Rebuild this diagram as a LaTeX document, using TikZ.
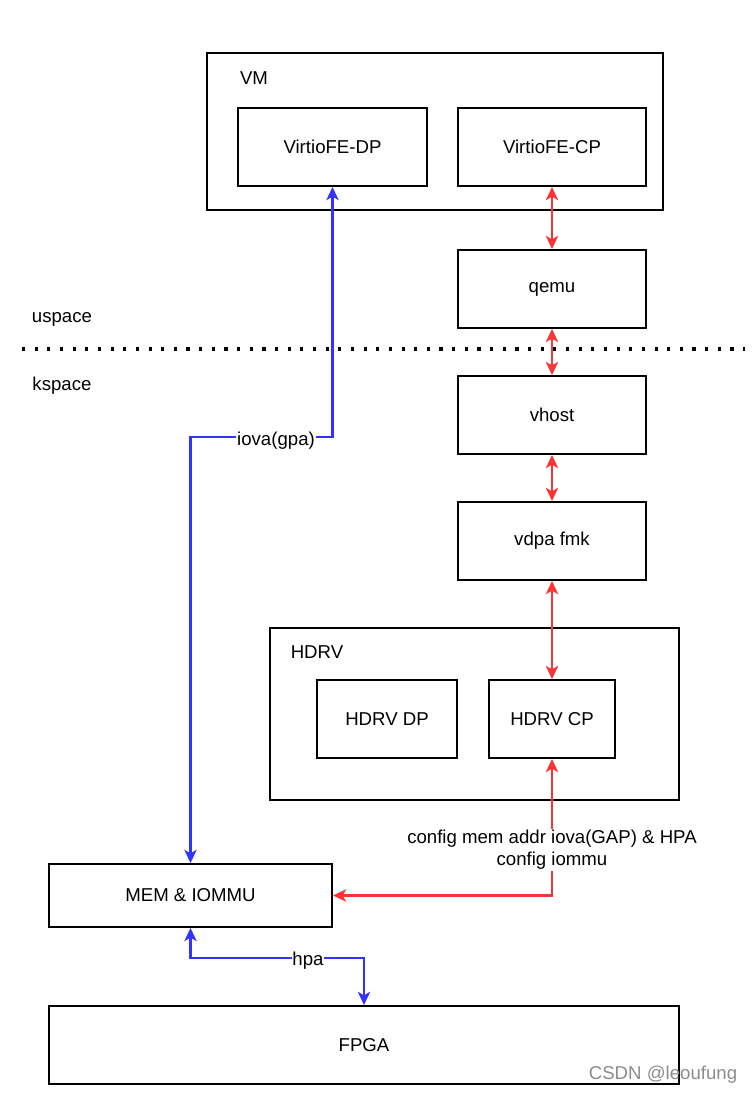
\documentclass[tikz,border=0pt]{standalone}
\usepackage{fontspec}
\setmainfont{Liberation Sans}
\usetikzlibrary{arrows.meta}
\definecolor{cfgred}{HTML}{FF3333}
\definecolor{addrblue}{HTML}{3333FF}
\begin{document}
\begin{tikzpicture}[x=0.02cm,y=-0.02cm]
      \tikzstyle{every node} = [font=\fontsize{10.6}{12.7}\selectfont, inner sep = 1pt]
      \tikzstyle{blk} = [draw, line width=1.1pt, minimum height=1.56cm]
      \tikzstyle{redlink} = [draw=cfgred, line width=1.2pt, {Stealth[length=7.5pt,width=7pt,inset=2pt]}-{Stealth[length=7.5pt,width=7pt,inset=2pt]}]
      \tikzstyle{bluelink} = [draw=addrblue, line width=1.2pt, {Stealth[length=7.5pt,width=7pt,inset=2pt]}-{Stealth[length=7.5pt,width=7pt,inset=2pt]}]
      \tikzstyle{tag} = [fill=white, inner sep=0.5pt]
      \useasboundingbox (0,0) rectangle (752,1094);

      % user space
      \node[blk, minimum width=9.12cm, minimum height=3.14cm] (vm) at (435,131.5) {};
      \node (vmlabel) at (254,78) {VM};
      \node[blk, minimum width=3.78cm] (fedp) at (332.5,147) {VirtioFE-DP};
      \node[blk, minimum width=3.76cm] (fecp) at (552,147) {VirtioFE-CP};
      \node[blk, minimum width=3.76cm] (qemu) at (552,289) {qemu};

      \node (uspace) at (62,319) {uspace};
      \node (kspace) at (62,386) {kspace};
      \draw[line width=1.8pt, dash pattern=on 1.8pt off 5.4pt] (22,349) -- (745,349);

      % kernel space
      \node[blk, minimum width=3.76cm] (vhost) at (552,415) {vhost};
      \node[blk, minimum width=3.76cm] (vdpa) at (552,541) {vdpa fmk};
      \node[blk, minimum width=8.18cm, minimum height=3.44cm] (hdrv) at (474.5,714) {};
      \node (hdrvlabel) at (317,652) {HDRV};
      \node[blk, minimum width=2.8cm] (hdp) at (387,719) {HDRV DP};
      \node[blk, minimum width=2.52cm] (hcp) at (552,719) {HDRV CP};
      \node[blk, minimum width=5.66cm, minimum height=1.26cm] (mem) at (190.5,895.5) {MEM \& IOMMU};
      \node[blk, minimum width=12.6cm] (fpga) at (364,1045) {FPGA};

      % control path
      \path[redlink] (fecp) -- (qemu);
      \path[redlink] (qemu) -- (vhost);
      \path[redlink] (vhost) -- (vdpa);
      \path[redlink] (vdpa) -- (hcp);
      \path[redlink] (hcp.south) |- (mem.east);
      \node[tag, align=center] (cfglabel) at (552,850) {config mem addr iova(GAP) \& HPA\\config iommu};

      % data path
      \coordinate (gpaturn) at (260,437);
      \coordinate (hpaturn) at (280,958);
      \path[bluelink] (mem.north) |- (gpaturn) -| (fedp.south);
      \node[tag] (gpalabel) at (276,441) {iova(gpa)};
      \path[bluelink] (mem.south) |- (hpaturn) -| (fpga.north);
      \node[tag] (hpalabel) at (308,961) {hpa};

      \node[text=black!45] (mark) at (663,1075) {CSDN @leoufung};
    \end{tikzpicture}
\end{document}
